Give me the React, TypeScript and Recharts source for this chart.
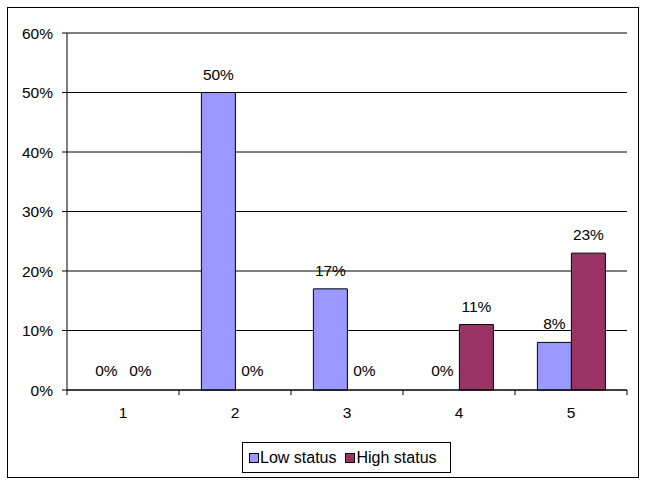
import React from 'react';
import {
  BarChart,
  Bar,
  XAxis,
  YAxis,
  CartesianGrid,
  Legend,
  LabelList,
  Rectangle,
} from 'recharts';

const categories = ['1', '2', '3', '4', '5'];
const lowStatus = [0, 50, 17, 0, 8];
const highStatus = [0, 0, 0, 11, 23];
const yTicks = [0, 10, 20, 30, 40, 50, 60];

const seriesNames = { low: 'Low status', high: 'High status' };
const colors = { low: '#9999FF', high: '#993366' };

const data = categories.map((c, i) => ({
  name: c,
  low: lowStatus[i],
  high: highStatus[i],
}));

const font = '"Liberation Sans", Arial, sans-serif';
const pct = (v: any) => `${v}%`;
const X_TICK_MARGIN = 17;

// zero bars get a 1px stub so their "0%" label is placed; the stub itself is not drawn
const BarShape = (props: any) =>
  props.height > 1.5 ? <Rectangle {...props} /> : null;

// category label plus Excel-style tick marks on the category boundaries
const CategoryTick = (props: any) => {
  const { x, y, payload, index } = props;
  const half = payload.offset || 0;
  const axisY = y - X_TICK_MARGIN;
  return (
    <g>
      {index === 0 && (
        <line x1={x - half} x2={x - half} y1={axisY} y2={axisY + 5} stroke="#000" />
      )}
      <line x1={x + half} x2={x + half} y1={axisY} y2={axisY + 5} stroke="#000" />
      <text x={x} y={y} dy="0.71em" textAnchor="middle" fill="#000" fontSize={15.5}>
        {payload.value}
      </text>
    </g>
  );
};

function LegendBox() {
  const item = (key: 'low' | 'high', gap: number) => (
    <div style={{ display: 'flex', alignItems: 'center', marginLeft: gap }}>
      <span
        style={{
          display: 'inline-block',
          width: 8,
          height: 8,
          background: colors[key],
          border: '1px solid #000',
          marginRight: 1,
        }}
      />
      <span>{seriesNames[key]}</span>
    </div>
  );
  return (
    <div
      style={{
        boxSizing: 'border-box',
        width: 209,
        height: 31,
        border: '1px solid #000',
        display: 'flex',
        alignItems: 'center',
        fontFamily: font,
        fontSize: 16,
        color: '#000',
        background: '#fff',
      }}
    >
      {item('low', 6)}
      {item('high', 9)}
    </div>
  );
}

export default function App() {
  return (
    <div
      style={{
        position: 'absolute',
        left: 7,
        top: 7,
        width: 632,
        height: 471,
        boxSizing: 'border-box',
        border: '1px solid #000',
        background: '#fff',
      }}
    >
      <BarChart
        width={630}
        height={469}
        data={data}
        margin={{ top: 25, right: 11, left: 0, bottom: 16 }}
        barCategoryGap="20%"
        barGap={0}
        style={{ fontFamily: font }}
      >
        <CartesianGrid vertical={false} stroke="#000" />
        <XAxis
          dataKey="name"
          height={40}
          tickLine={false}
          tickSize={0}
          tickMargin={X_TICK_MARGIN}
          axisLine={{ stroke: '#000' }}
          tick={<CategoryTick />}
        />
        <YAxis
          width={59}
          domain={[0, 60]}
          ticks={yTicks}
          tickFormatter={pct}
          axisLine={{ stroke: '#000' }}
          tickLine={{ stroke: '#000' }}
          tickSize={5}
          tickMargin={9}
          tick={{ fill: '#000', fontSize: 15.5 }}
        />
        <Legend
          content={() => <LegendBox />}
          wrapperStyle={{ position: 'absolute', top: 434, left: 234, width: 209, height: 31 }}
        />
        <Bar
          dataKey="low"
          name={seriesNames.low}
          fill={colors.low}
          stroke="#000"
          strokeWidth={1}
          minPointSize={1}
          shape={BarShape}
          isAnimationActive={false}
        >
          <LabelList dataKey="low" position="top" offset={13} formatter={pct} fill="#000" fontSize={15.5} />
        </Bar>
        <Bar
          dataKey="high"
          name={seriesNames.high}
          fill={colors.high}
          stroke="#000"
          strokeWidth={1}
          minPointSize={1}
          shape={BarShape}
          isAnimationActive={false}
        >
          <LabelList dataKey="high" position="top" offset={13} formatter={pct} fill="#000" fontSize={15.5} />
        </Bar>
      </BarChart>
    </div>
  );
}
